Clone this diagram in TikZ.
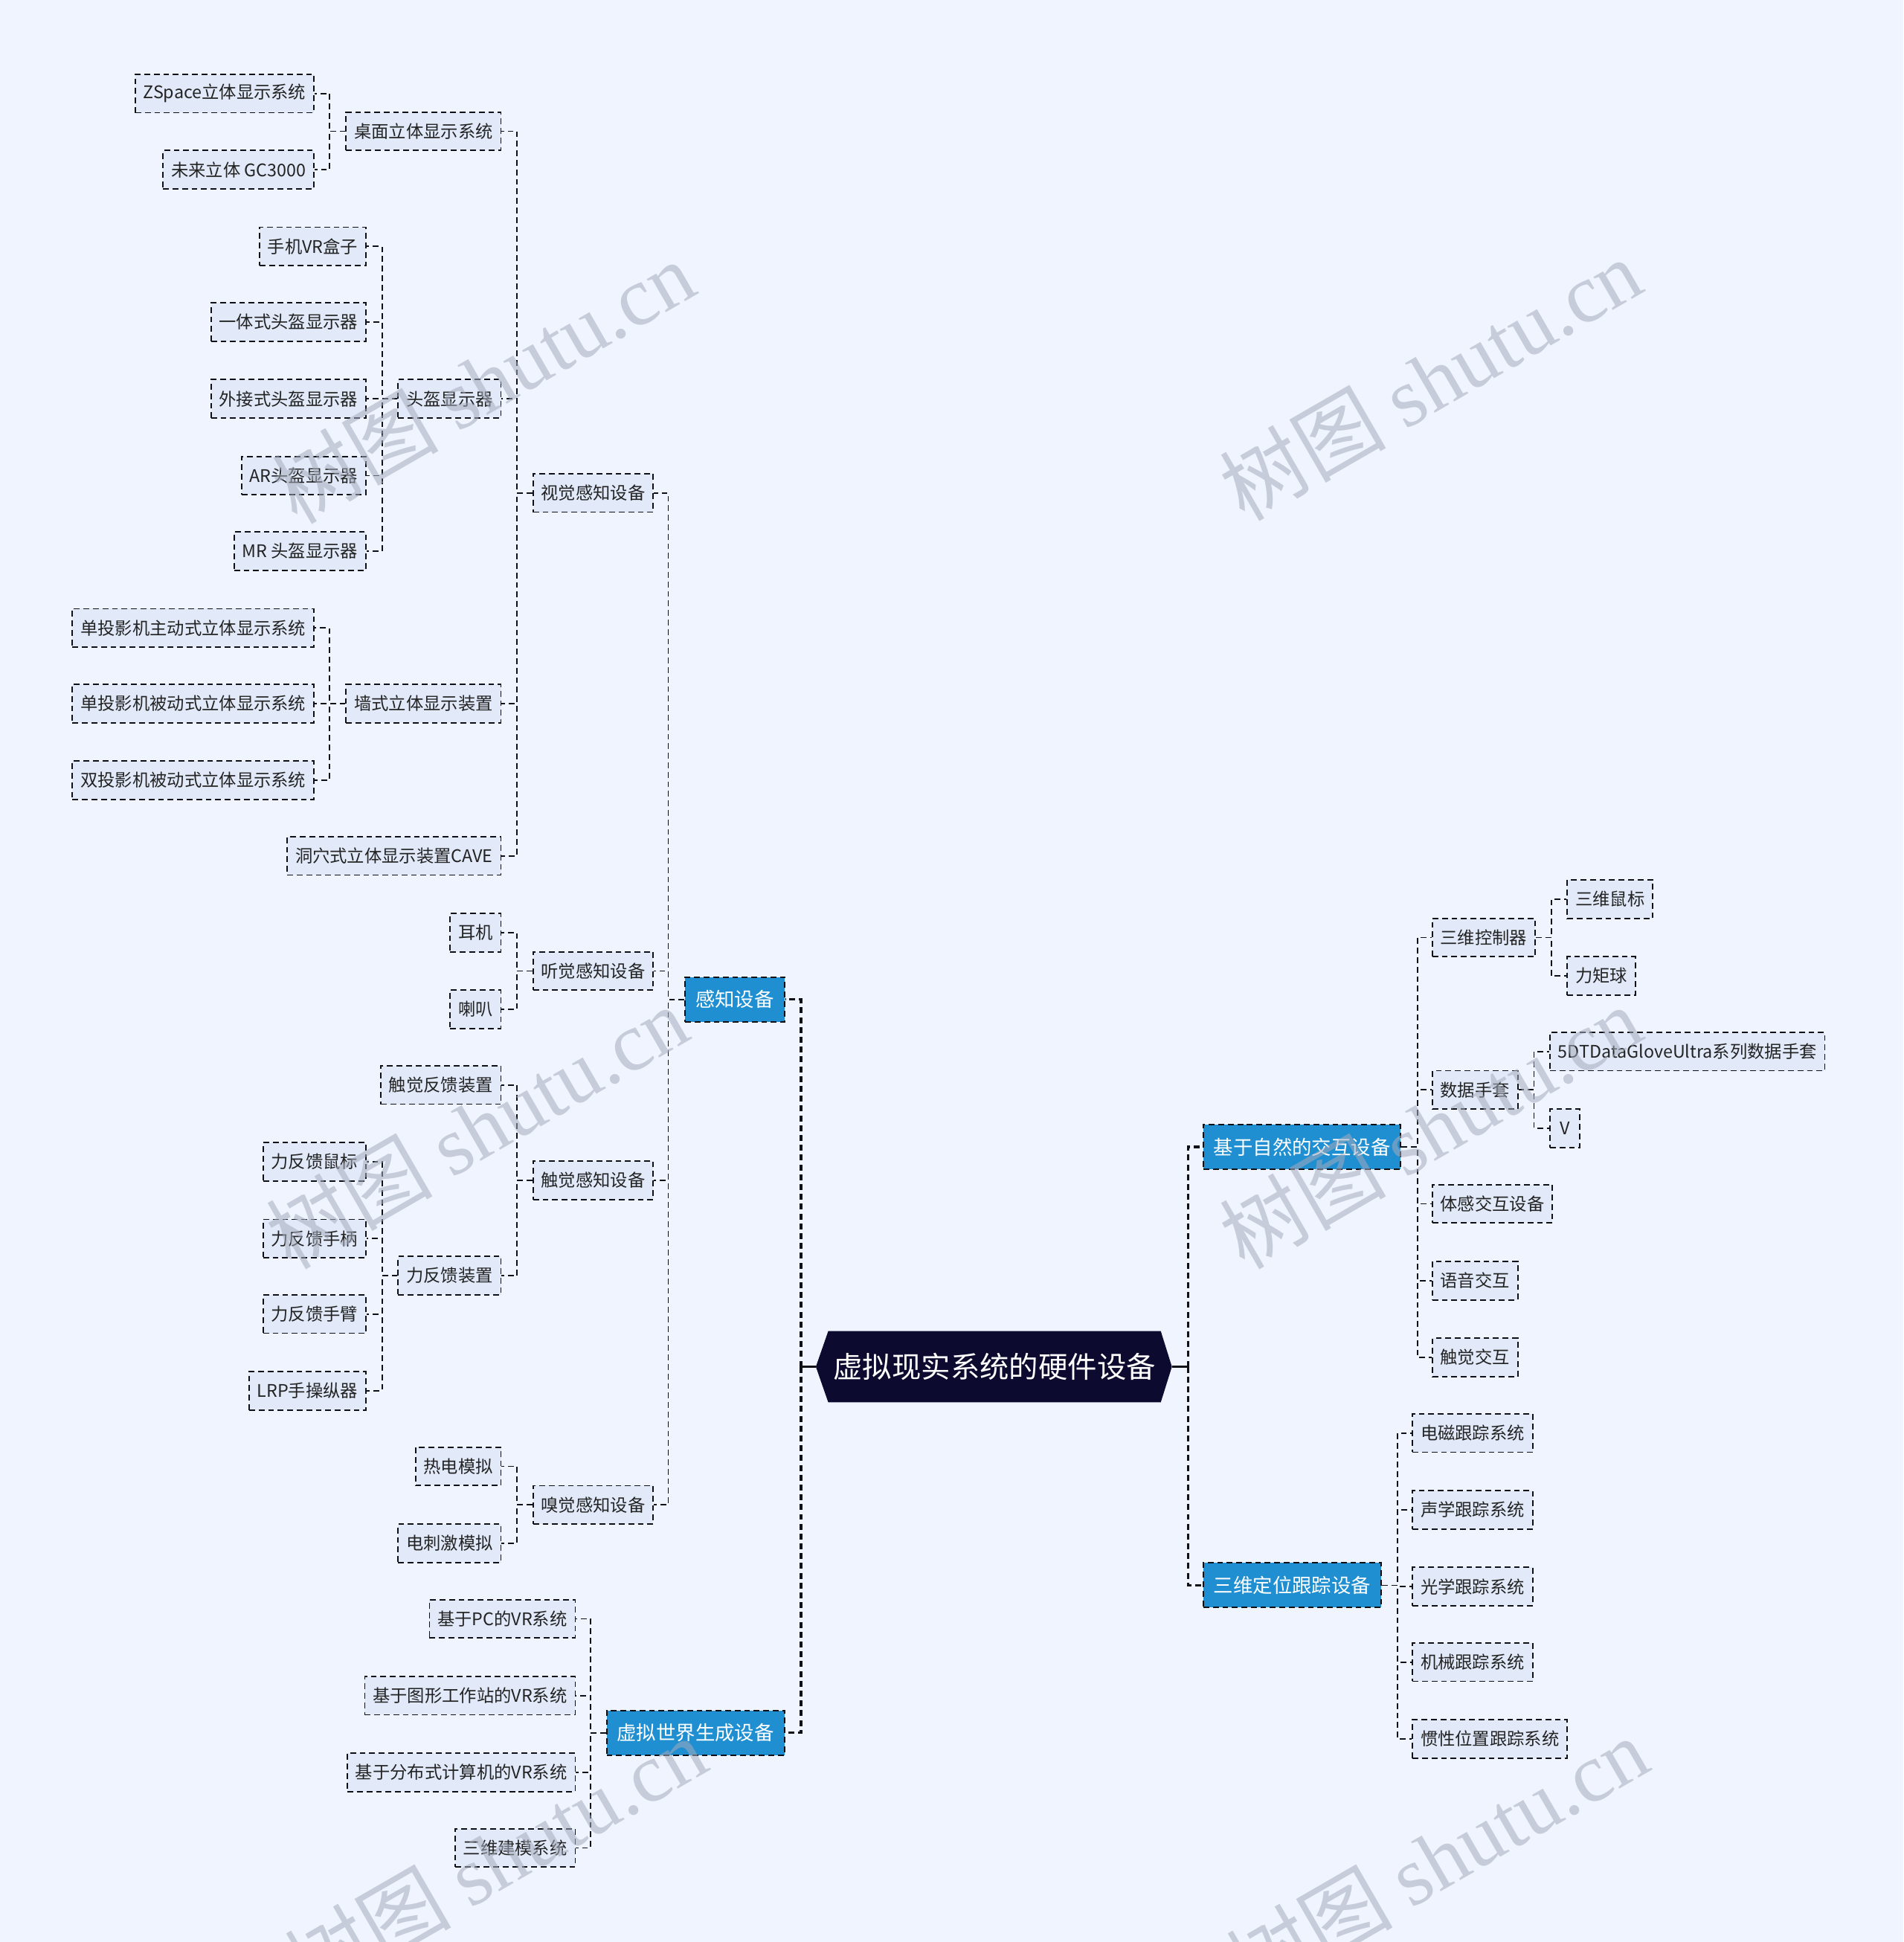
\documentclass[tikz,border=0pt]{standalone}
\usepackage{fontspec}
\setmainfont{Noto Sans CJK SC}
\newfontfamily\wmserif{Liberation Serif}
\usetikzlibrary{calc}
\pgfdeclarelayer{back}
\pgfsetlayers{back,main}
\definecolor{bgc}{RGB}{239,244,254}
\definecolor{nodefill}{RGB}{226,234,250}
\definecolor{bluefill}{RGB}{31,143,209}
\definecolor{rootfill}{RGB}{12,10,46}
\definecolor{txtc}{RGB}{35,35,35}
\definecolor{wmc}{RGB}{165,172,188}
\definecolor{linec}{RGB}{15,15,22}
\tikzset{
  leafbox/.style={draw=linec, line width=0.9pt, dash pattern=on 3.9pt off 2.5pt, fill=nodefill, text=txtc,
    font=\fontsize{11.66pt}{14pt}\selectfont, inner xsep=5.4pt, inner ysep=0pt, minimum height=25.8pt},
  bluebox/.style={draw=linec, line width=1pt, dash pattern=on 3.9pt off 2.5pt, fill=bluefill, text=white,
    font=\fontsize{13.2pt}{16pt}\selectfont, inner xsep=7pt, inner ysep=0pt, minimum height=30pt},
  rootbox/.style={text=white, font=\fontsize{19.7pt}{23pt}\selectfont, inner sep=0pt,
    minimum width=223.2pt, minimum height=47.5pt},
  conn/.style={draw=linec, line width=0.9pt, dash pattern=on 3.9pt off 2.5pt},
  bigconn/.style={draw=linec, line width=1.6pt, dash pattern=on 4pt off 2.6pt},
  rootstub/.style={draw=linec, line width=1.6pt},
  wmark/.style={rotate=30, text=wmc, text opacity=0.55, font=\fontsize{56pt}{60pt}\selectfont, inner sep=0pt}
}
\begin{document}
\begin{tikzpicture}[x=0.8328pt, y=-0.8328pt]
\useasboundingbox (0,0) rectangle (1537,1568);
\begin{pgfonlayer}{back}
\fill[bgc] (0,0) rectangle (1537,1568);
\end{pgfonlayer}

% root
\node[rootbox] (root) at (803,1103.5) {虚拟现实系统的硬件设备};
\coordinate (rootR) at ($(root.east)+(9,0)$);
\coordinate (rootL) at ($(root.west)+(-10,0)$);
\begin{pgfonlayer}{back}
\fill[rootfill] (root.north west) -- (root.north east) -- (rootR) -- (root.south east) -- (root.south west) -- (rootL) -- cycle;
\end{pgfonlayer}

% left main branches
\node[bluebox, anchor=east] (gz) at (634,807) {感知设备};
\node[bluebox, anchor=east] (sj) at (634,1399) {虚拟世界生成设备};

\node[leafbox, anchor=east] (sjgz) at (528,398) {视觉感知设备};
\node[leafbox, anchor=east] (tjgz) at (528,784) {听觉感知设备};
\node[leafbox, anchor=east] (cjgz) at (528,953) {触觉感知设备};
\node[leafbox, anchor=east] (xjgz) at (528,1215) {嗅觉感知设备};

\node[leafbox, anchor=east] (zm) at (405,106) {桌面立体显示系统};
\node[leafbox, anchor=east] (tk) at (405,322) {头盔显示器};
\node[leafbox, anchor=east] (qs) at (405,568) {墙式立体显示装置};
\node[leafbox, anchor=east] (dx) at (405,691) {洞穴式立体显示装置CAVE};

\node[leafbox, anchor=east] (zs) at (254,75.5) {ZSpace立体显示系统};
\node[leafbox, anchor=east] (gc) at (254,137) {未来立体 GC3000};

\node[leafbox, anchor=east] (tk1) at (296,199) {手机VR盒子};
\node[leafbox, anchor=east] (tk2) at (296,260) {一体式头盔显示器};
\node[leafbox, anchor=east] (tk3) at (296,322) {外接式头盔显示器};
\node[leafbox, anchor=east] (tk4) at (296,384) {AR头盔显示器};
\node[leafbox, anchor=east] (tk5) at (296,445) {MR 头盔显示器};

\node[leafbox, anchor=east] (qs1) at (254,507) {单投影机主动式立体显示系统};
\node[leafbox, anchor=east] (qs2) at (254,568) {单投影机被动式立体显示系统};
\node[leafbox, anchor=east] (qs3) at (254,630) {双投影机被动式立体显示系统};

\node[leafbox, anchor=east] (ej) at (405,753) {耳机};
\node[leafbox, anchor=east] (lb) at (405,815) {喇叭};

\node[leafbox, anchor=east] (cjfk) at (405,876) {触觉反馈装置};
\node[leafbox, anchor=east] (lfk) at (405,1030) {力反馈装置};
\node[leafbox, anchor=east] (lf1) at (296,938) {力反馈鼠标};
\node[leafbox, anchor=east] (lf2) at (296,1000) {力反馈手柄};
\node[leafbox, anchor=east] (lf3) at (296,1061) {力反馈手臂};
\node[leafbox, anchor=east] (lf4) at (296,1123) {LRP手操纵器};

\node[leafbox, anchor=east] (rd) at (405,1184) {热电模拟};
\node[leafbox, anchor=east] (dcj) at (405,1246) {电刺激模拟};

\node[leafbox, anchor=east] (vr1) at (465,1307) {基于PC的VR系统};
\node[leafbox, anchor=east] (vr2) at (465,1369) {基于图形工作站的VR系统};
\node[leafbox, anchor=east] (vr3) at (465,1431) {基于分布式计算机的VR系统};
\node[leafbox, anchor=east] (vr4) at (465,1492) {三维建模系统};

% right main branches
\node[bluebox, anchor=west] (zr) at (971,926) {基于自然的交互设备};
\node[bluebox, anchor=west] (dw) at (971,1280) {三维定位跟踪设备};

\node[leafbox, anchor=west] (kz) at (1156,757) {三维控制器};
\node[leafbox, anchor=west] (st) at (1156,880) {数据手套};
\node[leafbox, anchor=west] (tg) at (1156,972) {体感交互设备};
\node[leafbox, anchor=west] (yy) at (1156,1034) {语音交互};
\node[leafbox, anchor=west] (cj) at (1156,1096) {触觉交互};

\node[leafbox, anchor=west] (sb) at (1265,726) {三维鼠标};
\node[leafbox, anchor=west] (ljq) at (1265,788) {力矩球};
\node[leafbox, anchor=west] (dt) at (1251,849) {5DTDataGloveUltra系列数据手套};
\node[leafbox, anchor=west, minimum width=20pt] (vv) at (1251,911) {V};

\node[leafbox, anchor=west] (dc) at (1140,1157) {电磁跟踪系统};
\node[leafbox, anchor=west] (sx) at (1140,1219) {声学跟踪系统};
\node[leafbox, anchor=west] (gx) at (1140,1281) {光学跟踪系统};
\node[leafbox, anchor=west] (jx) at (1140,1342) {机械跟踪系统};
\node[leafbox, anchor=west] (gxw) at (1140,1404) {惯性位置跟踪系统};

% connectors: root
\draw[rootstub] (rootL) -- ++(-12,0) coordinate (tl);
\foreach \c in {gz,sj} \draw[bigconn] (tl) |- (\c.east);
\draw[rootstub] (rootR) -- ++(13,0) coordinate (tr);
\foreach \c in {zr,dw} \draw[bigconn] (tr) |- (\c.west);

% connectors: left
\foreach \c in {sjgz,tjgz,cjgz,xjgz} \draw[conn] (gz.west) -- ++(-13,0) |- (\c.east);
\foreach \c in {zm,tk,qs,dx} \draw[conn] (sjgz.west) -- ++(-12.5,0) |- (\c.east);
\foreach \c in {zs,gc} \draw[conn] (zm.west) -- ++(-13,0) |- (\c.east);
\foreach \c in {tk1,tk2,tk3,tk4,tk5} \draw[conn] (tk.west) -- ++(-12.5,0) |- (\c.east);
\foreach \c in {qs1,qs2,qs3} \draw[conn] (qs.west) -- ++(-13,0) |- (\c.east);
\foreach \c in {ej,lb} \draw[conn] (tjgz.west) -- ++(-12.5,0) |- (\c.east);
\foreach \c in {cjfk,lfk} \draw[conn] (cjgz.west) -- ++(-12.5,0) |- (\c.east);
\foreach \c in {lf1,lf2,lf3,lf4} \draw[conn] (lfk.west) -- ++(-12.5,0) |- (\c.east);
\foreach \c in {rd,dcj} \draw[conn] (xjgz.west) -- ++(-12.5,0) |- (\c.east);
\foreach \c in {vr1,vr2,vr3,vr4} \draw[conn] (sj.west) -- ++(-12.5,0) |- (\c.east);

% connectors: right
\foreach \c in {kz,st,tg,yy,cj} \draw[conn] (zr.east) -- ++(13,0) |- (\c.west);
\foreach \c in {sb,ljq} \draw[conn] (kz.east) -- ++(12.5,0) |- (\c.west);
\foreach \c in {dt,vv} \draw[conn] (st.east) -- ++(12.5,0) |- (\c.west);
\foreach \c in {dc,sx,gx,jx,gxw} \draw[conn] (dw.east) -- ++(12.5,0) |- (\c.west);

% watermarks
\node[wmark] (wm1) at (390,308) {树图 {\wmserif shutu.cn}};
\node[wmark] (wm2) at (1155,306) {树图 {\wmserif shutu.cn}};
\node[wmark] (wm3) at (385,910) {树图 {\wmserif shutu.cn}};
\node[wmark] (wm4) at (1155,910) {树图 {\wmserif shutu.cn}};
\node[wmark] (wm5) at (400,1500) {树图 {\wmserif shutu.cn}};
\node[wmark] (wm6) at (1160,1500) {树图 {\wmserif shutu.cn}};
\end{tikzpicture}
\end{document}
